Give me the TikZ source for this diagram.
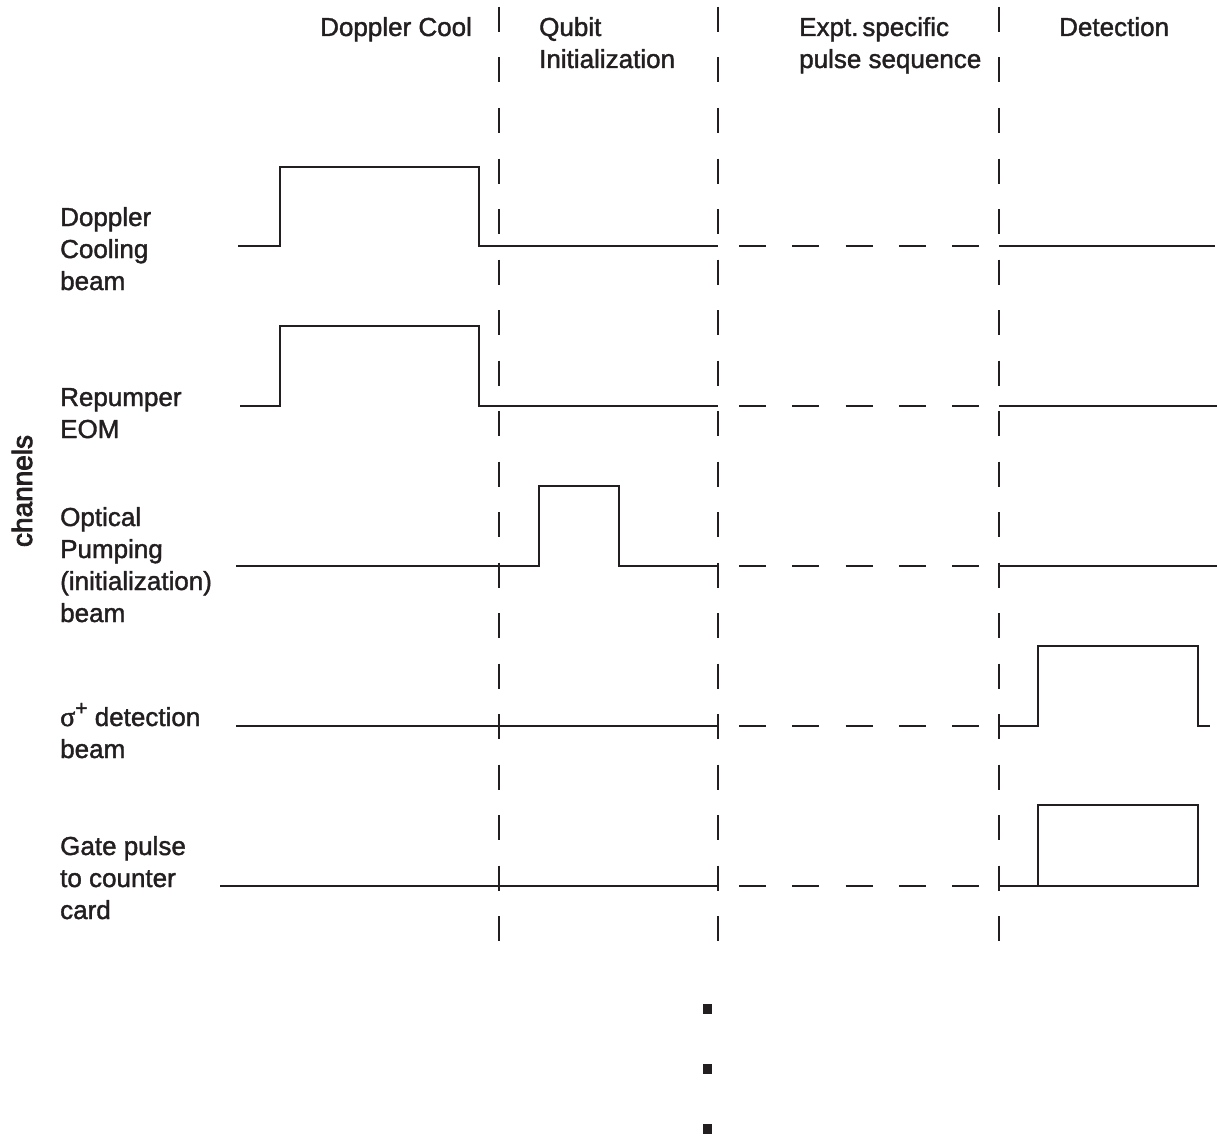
\documentclass[tikz,border=0pt]{standalone}
\usepackage{fontspec}
\setmainfont{Liberation Sans}[FakeBold=1.5]
\newfontfamily\greekserif{Liberation Serif}[FakeBold=1.5]
\newfontfamily\medfont{Liberation Sans}[FakeBold=3]
\definecolor{ink}{HTML}{231F20}
\begin{document}
\begin{tikzpicture}[x=1pt,y=-1pt,
  sig/.style={line width=2pt, draw=ink, line cap=butt, line join=miter},
  vdash/.style={line width=2pt, draw=ink, dash pattern=on 25pt off 25.5pt},
  hdash/.style={line width=2pt, draw=ink, dash pattern=on 27pt off 26.25pt},
  lbl/.style={anchor=base west, align=left, inner sep=0pt, text=ink,
              font=\fontsize{26}{32}\selectfont},
  dotsq/.style={fill=ink, draw=none}]
\useasboundingbox[fill=white, draw=none] (0,0) rectangle (1217,1137);

% phase boundaries
\coordinate (b1top) at (499,7);   \coordinate (b1bot) at (499,945);
\coordinate (b2top) at (718,7);   \coordinate (b2bot) at (718,945);
\coordinate (b3top) at (999,7);   \coordinate (b3bot) at (999,945);
\draw[vdash] (b1top) -- (b1bot);
\draw[vdash] (b2top) -- (b2bot);
\draw[vdash] (b3top) -- (b3bot);

% phase headers (anchor = baseline of last line)
\node[lbl] (hdc)  at (320,36) {Doppler Cool};
\node[lbl] (hqi)  at (539,68) {Qubit\\Initialization};
\node[lbl] (hexp) at (799,68) {Expt.\hspace{0.15em}specific\\pulse sequence};
\node[lbl] (hdet) at (1059,36) {Detection};

% channel labels (anchor = baseline of last line)
\node[lbl] (l1) at (60,290) {Doppler\\Cooling\\beam};
\node[lbl] (l2) at (60,438) {Repumper\\EOM};
\node[lbl] (l3) at (60,622) {Optical\\Pumping\\(initialization)\\beam};
\node[lbl] (l4) at (60,758) {{\greekserif\fontsize{28}{32}\selectfont σ}\raisebox{0.42em}{\fontsize{21}{21}\selectfont +} detection\\beam};
\node[lbl] (l5) at (60,919) {Gate pulse\\to counter\\card};
\node[inner sep=0pt, text=ink, rotate=90, anchor=base, font=\medfont\fontsize{28}{32}\selectfont] (ch) at (32,491) {channels};

% row 1: Doppler cooling beam
\draw[sig] (238,246) -- (280,246) -- (280,167) -- (479,167) -- (479,246) -- (718,246);
\draw[hdash] (739,246) -- (979,246);
\draw[sig] (999,246) -- (1215,246);
% row 2: repumper EOM
\draw[sig] (240,406) -- (280,406) -- (280,326) -- (479,326) -- (479,406) -- (718,406);
\draw[hdash] (739,406) -- (979,406);
\draw[sig] (999,406) -- (1217,406);
% row 3: optical pumping
\draw[sig] (236,566) -- (539,566) -- (539,486) -- (619,486) -- (619,566) -- (718,566);
\draw[hdash] (739,566) -- (979,566);
\draw[sig] (999,566) -- (1217,566);
% row 4: sigma+ detection beam
\draw[sig] (236,726) -- (718,726);
\draw[hdash] (739,726) -- (979,726);
\draw[sig] (999,726) -- (1038,726) -- (1038,646) -- (1198,646) -- (1198,726) -- (1210,726);
% row 5: gate pulse
\draw[sig] (220,886) -- (718,886);
\draw[hdash] (739,886) -- (979,886);
\draw[sig] (999,886) -- (1038,886) -- (1038,805) -- (1198,805) -- (1198,886) -- cycle;

% continuation dots
\fill[dotsq] (703,1004) rectangle (712,1014);
\fill[dotsq] (703,1064) rectangle (712,1074);
\fill[dotsq] (703,1124) rectangle (712,1134);
\end{tikzpicture}
\end{document}
